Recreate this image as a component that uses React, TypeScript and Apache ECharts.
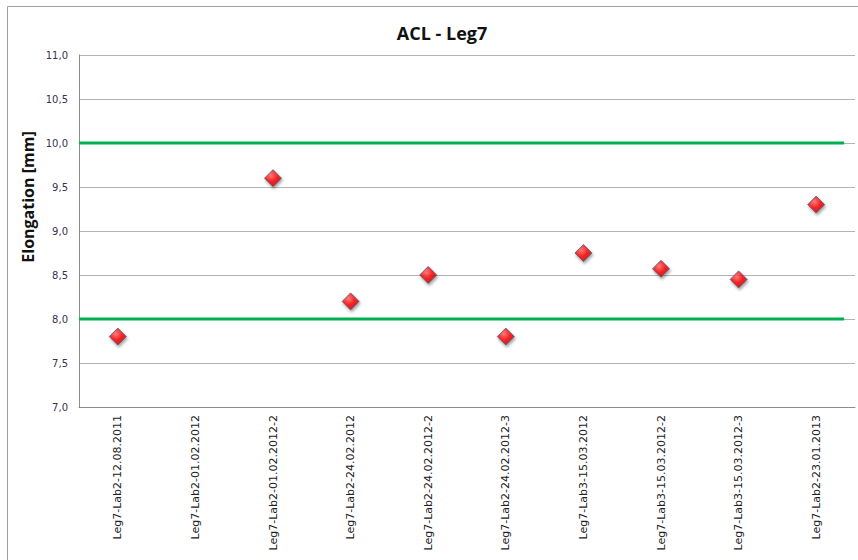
import React, { useEffect, useRef } from "react";
import * as echarts from "echarts";

const categories = [
  "Leg7-Lab2-12.08.2011",
  "Leg7-Lab2-01.02.2012",
  "Leg7-Lab2-01.02.2012-2",
  "Leg7-Lab2-24.02.2012",
  "Leg7-Lab2-24.02.2012-2",
  "Leg7-Lab2-24.02.2012-3",
  "Leg7-Lab3-15.03.2012",
  "Leg7-Lab3-15.03.2012-2",
  "Leg7-Lab3-15.03.2012-3",
  "Leg7-Lab2-23.01.2013",
];
const elongation: (number | null)[] = [7.8, null, 9.6, 8.2, 8.5, 7.8, 8.75, 8.57, 8.45, 9.3];
const upperLimit = 10.0;
const lowerLimit = 8.0;
const limitSpan = [0, 0.986];
const yMin = 7.0;
const yMax = 11.0;
const yStep = 0.5;

export default function App() {
  const ref = useRef<HTMLDivElement>(null);
  useEffect(() => {
    if (!ref.current) return;
    const chart = echarts.init(ref.current, undefined, { renderer: "svg" });
    const diamondFill = new echarts.graphic.RadialGradient(0.4, 0.35, 0.7, [
      { offset: 0, color: "#ff6a6a" },
      { offset: 0.5, color: "#ff0000" },
      { offset: 1, color: "#c00000" },
    ]);
    chart.setOption({
      animation: false,
      backgroundColor: "#ffffff",
      title: {
        text: "ACL - Leg7",
        left: 437,
        textAlign: "center",
        top: 19,
        textStyle: {
          fontFamily: "Open Sans",
          fontWeight: "bold",
          fontSize: 18,
          color: "#111",
        },
      },
      graphic: [
        {
          type: "rect",
          shape: { x: 7.5, y: 6.5, width: 900, height: 600 },
          style: { fill: "none", stroke: "#a0a0a0", lineWidth: 1 },
          silent: true,
          z: -1,
        },
        {
          type: "text",
          x: 28,
          y: 197,
          rotation: Math.PI / 2,
          style: {
            text: "Elongation [mm]",
            fontFamily: "Open Sans",
            fontWeight: "bold",
            fontSize: 16,
            fill: "#111",
            align: "center",
            verticalAlign: "middle",
          },
        },
      ],
      grid: { left: 79, top: 55, right: 3, bottom: 153 },
      xAxis: [
        {
          type: "category",
          data: categories,
          axisLine: { show: true, lineStyle: { color: "#8c8c8c", width: 1 } },
          axisTick: { show: false },
          splitLine: { show: false },
          axisLabel: {
            rotate: 90,
            margin: 8,
            fontSize: 11,
            fontFamily: "DejaVu Sans",
            color: "#222",
            interval: 0,
          },
        },
        {
          type: "value",
          min: 0,
          max: 1,
          show: false,
          position: "top",
        },
      ],
      yAxis: {
        type: "value",
        min: yMin,
        max: yMax,
        interval: yStep,
        axisLine: { show: true, lineStyle: { color: "#8c8c8c", width: 1 } },
        axisTick: { show: false },
        splitLine: { show: true, lineStyle: { color: "#b4b4b4", width: 1 } },
        axisLabel: {
          margin: 11,
          fontSize: 10,
          fontFamily: "DejaVu Sans",
          color: "#3a3050",
          formatter: (v: number) => v.toFixed(1).replace(".", ","),
        },
      },
      series: [
        {
          type: "line",
          xAxisIndex: 1,
          data: limitSpan.map((x) => [x, upperLimit]),
          symbol: "none",
          lineStyle: { color: "#00b050", width: 3 },
          z: 3,
        },
        {
          type: "line",
          xAxisIndex: 1,
          data: limitSpan.map((x) => [x, lowerLimit]),
          symbol: "none",
          lineStyle: { color: "#00b050", width: 3 },
          z: 3,
        },
        {
          type: "scatter",
          data: elongation,
          symbol: "diamond",
          symbolSize: 17,
          itemStyle: {
            color: diamondFill,
            borderColor: "#4d5b7c",
            borderWidth: 1,
            shadowBlur: 3,
            shadowOffsetX: 1,
            shadowOffsetY: 2,
            shadowColor: "rgba(0,0,0,0.45)",
          },
          z: 5,
        },
      ],
    });
    return () => chart.dispose();
  }, []);
  return (
    <div
      ref={ref}
      style={{ position: "fixed", left: 0, top: 0, width: 858, height: 560 }}
    />
  );
}
